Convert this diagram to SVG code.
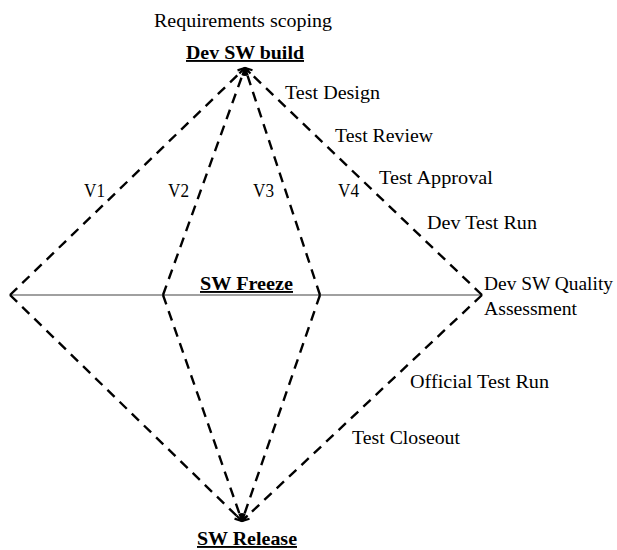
<svg xmlns="http://www.w3.org/2000/svg" width="617" height="550" viewBox="0 0 617 550">
<style>
text{font-family:"Liberation Serif","Times New Roman",serif;font-size:19px;fill:#000}
.b{font-weight:bold;text-decoration:underline}
.d{fill:none;stroke:#000;stroke-width:2.4;stroke-dasharray:10 7}
</style>
<defs>
<marker id="ah" viewBox="0 0 10 10" refX="9" refY="5" markerWidth="10" markerHeight="10" markerUnits="userSpaceOnUse" orient="auto">
<path d="M2,1.5 L9,5 L2,8.5" fill="none" stroke="#000" stroke-width="2.2"/>
</marker>
</defs>
<rect width="617" height="550" fill="#fff"/>
<g id="connectors">
<line x1="10" y1="295" x2="480" y2="295" stroke="#808080" stroke-width="1.5"/>
<path class="d" d="M10,295 L245,68" marker-end="url(#ah)"/>
<path class="d" d="M163,295 L245,68" marker-end="url(#ah)"/>
<path class="d" d="M320,295 L245,68" marker-end="url(#ah)"/>
<path class="d" d="M482,295 L245,68" marker-end="url(#ah)"/>
<path class="d" d="M10,295 L242,521" marker-end="url(#ah)"/>
<path class="d" d="M163,295 L242,521" marker-end="url(#ah)"/>
<path class="d" d="M320,295 L242,521" marker-end="url(#ah)"/>
<path class="d" d="M482,295 L242,521" marker-end="url(#ah)"/>
</g>
<g id="requirements-scoping"><text x="154" y="27" textLength="178" lengthAdjust="spacingAndGlyphs">Requirements scoping</text></g>
<g id="dev-sw-build"><text class="b" x="186" y="59" textLength="118" lengthAdjust="spacingAndGlyphs">Dev SW build</text></g>
<g id="test-design"><text x="285" y="99" textLength="95" lengthAdjust="spacingAndGlyphs">Test Design</text></g>
<g id="test-review"><text x="335" y="142" textLength="98" lengthAdjust="spacingAndGlyphs">Test Review</text></g>
<g id="test-approval"><text x="379" y="184" textLength="114" lengthAdjust="spacingAndGlyphs">Test Approval</text></g>
<g id="dev-test-run"><text x="427" y="229" textLength="110" lengthAdjust="spacingAndGlyphs">Dev Test Run</text></g>
<g id="v1"><text x="84" y="197" textLength="21" lengthAdjust="spacingAndGlyphs">V1</text></g>
<g id="v2"><text x="168" y="197" textLength="21" lengthAdjust="spacingAndGlyphs">V2</text></g>
<g id="v3"><text x="253" y="197" textLength="21" lengthAdjust="spacingAndGlyphs">V3</text></g>
<g id="v4"><text x="338" y="197" textLength="21" lengthAdjust="spacingAndGlyphs">V4</text></g>
<g id="sw-freeze"><text class="b" x="200" y="290" textLength="93" lengthAdjust="spacingAndGlyphs">SW Freeze</text></g>
<g id="dev-sw-quality-assessment">
<text x="484" y="290" textLength="129" lengthAdjust="spacingAndGlyphs">Dev SW Quality</text>
<text x="484" y="315" textLength="93" lengthAdjust="spacingAndGlyphs">Assessment</text>
</g>
<g id="official-test-run"><text x="410" y="388" textLength="139" lengthAdjust="spacingAndGlyphs">Official Test Run</text></g>
<g id="test-closeout"><text x="352" y="444" textLength="108" lengthAdjust="spacingAndGlyphs">Test Closeout</text></g>
<g id="sw-release"><text class="b" x="197" y="545" textLength="100" lengthAdjust="spacingAndGlyphs">SW Release</text></g>
</svg>
